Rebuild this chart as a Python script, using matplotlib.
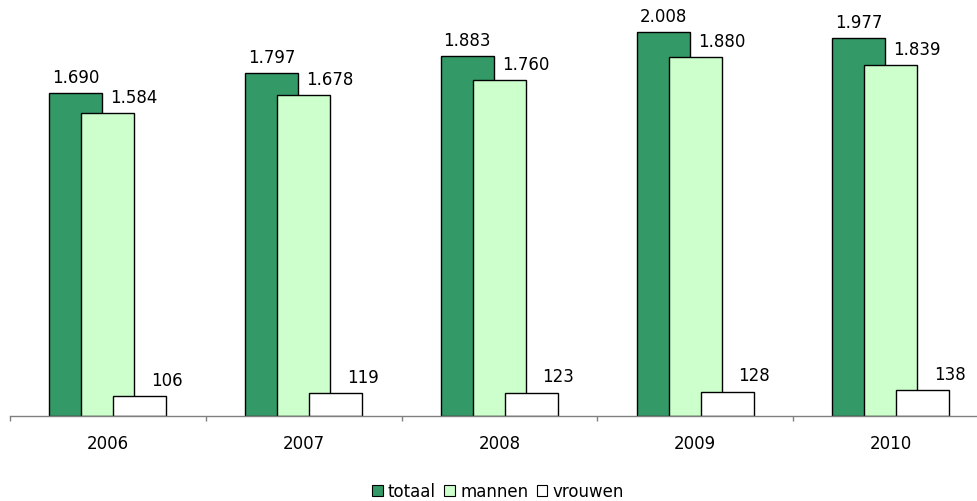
"""
Overlappende staafdiagram: totaal / mannen / vrouwen per jaar
"""

import matplotlib.pyplot as plt
from matplotlib.patches import Patch
import numpy as np

years = ["2006", "2007", "2008", "2009", "2010"]
totaal = [1690, 1797, 1883, 2008, 1977]
mannen = [1584, 1678, 1760, 1880, 1839]
vrouwen = [106, 119, 123, 128, 138]

series_names = ["totaal", "mannen", "vrouwen"]
series_colors = ["#339966", "#CCFFCC", "#FFFFFF"]


def fmt(v):
    return f"{v:,}".replace(",", ".")


def plot_chart():
    plt.rcParams["font.family"] = ["DejaVu Sans"]
    fig = plt.figure(figsize=(9.78, 5.02), dpi=100)
    W, H = 978, 502
    base_px = 417
    ax = fig.add_axes([10 / W, (H - base_px) / H, 978.75 / W, base_px / H])

    x = np.arange(len(years))
    offset = 0.1635
    width = 0.271
    label_dx = [0, 19, 19.5]  # points

    for i, (vals, color) in enumerate(zip([totaal, mannen, vrouwen], series_colors)):
        pos = x + (i - 1) * offset
        ax.bar(pos, vals, width=width, color=color, edgecolor="black",
               linewidth=1.0, zorder=2 + i)
        for p, v in zip(pos, vals):
            ax.annotate(fmt(v), (p, v), xytext=(label_dx[i], 8),
                        textcoords="offset points", ha="center",
                        va="baseline", fontsize=12, color="#000000")

    ax.set_xlim(-0.5, len(years) - 0.5)
    ax.set_ylim(0, 2183)

    for s in ["left", "top", "right"]:
        ax.spines[s].set_visible(False)
    ax.spines["bottom"].set_color("#808080")
    ax.spines["bottom"].set_linewidth(1.0)
    ax.spines["bottom"].set_zorder(10)
    ax.set_yticks([])

    ax.set_xticks(x)
    ax.set_xticklabels(years, fontsize=12)
    ax.tick_params(axis="x", which="major", length=0, pad=13)
    ax.set_xticks(np.arange(len(years) + 1) - 0.5, minor=True)
    ax.tick_params(axis="x", which="minor", length=3.6, width=1.0,
                   color="#808080", direction="out")

    handles = [Patch(facecolor=c, edgecolor="black", linewidth=0.8)
               for c in series_colors]
    fig.legend(handles, series_names, loc="center",
               bbox_to_anchor=(498 / W, 1 - 492 / H), ncol=3, frameon=False,
               fontsize=12, handlelength=0.65, handleheight=0.65,
               handletextpad=0.3, columnspacing=0.5, borderpad=0)

    plt.savefig("out.png", dpi=100)


if __name__ == "__main__":
    plot_chart()
